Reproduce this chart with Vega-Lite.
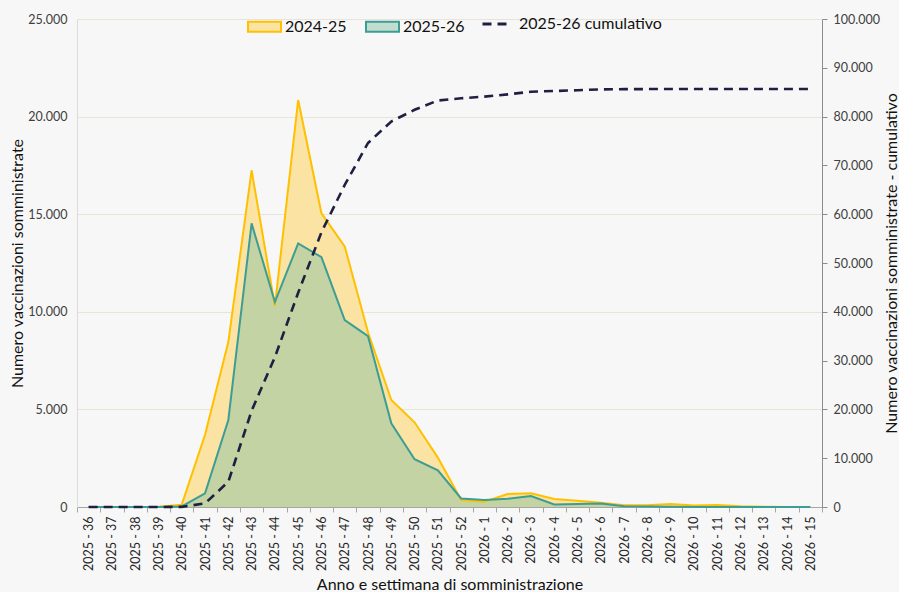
{
  "$schema": "https://vega.github.io/schema/vega-lite/v6.json",
  "width": 745,
  "height": 488,
  "autosize": {"type": "none"},
  "padding": {"left": 77, "top": 19, "right": 77, "bottom": 85},
  "background": "#F7F7F7",
  "config": {
    "font": "Lato",
    "view": {"stroke": null},
    "locale": {"number": {"decimal": ",", "thousands": ".", "grouping": [3], "currency": ["€", ""]}}
  },
  "data": {
    "values": [
      {"settimana": "2025 - 36", "2024-25": 0, "2025-26": 0, "cum": 0},
      {"settimana": "2025 - 37", "2024-25": 0, "2025-26": 0, "cum": 0},
      {"settimana": "2025 - 38", "2024-25": 0, "2025-26": 0, "cum": 0},
      {"settimana": "2025 - 39", "2024-25": 10, "2025-26": 0, "cum": 0},
      {"settimana": "2025 - 40", "2024-25": 120, "2025-26": 30, "cum": 30},
      {"settimana": "2025 - 41", "2024-25": 3700, "2025-26": 700, "cum": 730},
      {"settimana": "2025 - 42", "2024-25": 8450, "2025-26": 4450, "cum": 5180},
      {"settimana": "2025 - 43", "2024-25": 17250, "2025-26": 14530, "cum": 19710},
      {"settimana": "2025 - 44", "2024-25": 10300, "2025-26": 10500, "cum": 30700},
      {"settimana": "2025 - 45", "2024-25": 20850, "2025-26": 13500, "cum": 43900},
      {"settimana": "2025 - 46", "2024-25": 15050, "2025-26": 12800, "cum": 56300},
      {"settimana": "2025 - 47", "2024-25": 13350, "2025-26": 9580, "cum": 66000},
      {"settimana": "2025 - 48", "2024-25": 8950, "2025-26": 8750, "cum": 74600},
      {"settimana": "2025 - 49", "2024-25": 5480, "2025-26": 4290, "cum": 79000},
      {"settimana": "2025 - 50", "2024-25": 4340, "2025-26": 2450, "cum": 81400},
      {"settimana": "2025 - 51", "2024-25": 2530, "2025-26": 1880, "cum": 83300},
      {"settimana": "2025 - 52", "2024-25": 360, "2025-26": 440, "cum": 83750},
      {"settimana": "2026 - 1", "2024-25": 270, "2025-26": 360, "cum": 84100},
      {"settimana": "2026 - 2", "2024-25": 665, "2025-26": 420, "cum": 84550},
      {"settimana": "2026 - 3", "2024-25": 700, "2025-26": 560, "cum": 85100},
      {"settimana": "2026 - 4", "2024-25": 410, "2025-26": 130, "cum": 85250},
      {"settimana": "2026 - 5", "2024-25": 320, "2025-26": 150, "cum": 85400},
      {"settimana": "2026 - 6", "2024-25": 220, "2025-26": 180, "cum": 85580},
      {"settimana": "2026 - 7", "2024-25": 85, "2025-26": 40, "cum": 85620},
      {"settimana": "2026 - 8", "2024-25": 85, "2025-26": 20, "cum": 85640},
      {"settimana": "2026 - 9", "2024-25": 150, "2025-26": 10, "cum": 85650},
      {"settimana": "2026 - 10", "2024-25": 80, "2025-26": 5, "cum": 85655},
      {"settimana": "2026 - 11", "2024-25": 100, "2025-26": 5, "cum": 85660},
      {"settimana": "2026 - 12", "2024-25": 40, "2025-26": 0, "cum": 85660},
      {"settimana": "2026 - 13", "2024-25": 10, "2025-26": 0, "cum": 85660},
      {"settimana": "2026 - 14", "2024-25": 5, "2025-26": 0, "cum": 85660},
      {"settimana": "2026 - 15", "2024-25": 5, "2025-26": 0, "cum": 85660}
    ]
  },
  "encoding": {
    "x": {
      "field": "settimana",
      "type": "nominal",
      "bandPosition": 0.5,
      "scale": {
        "type": "band",
        "paddingInner": 0,
        "paddingOuter": 0,
        "domain": ["2025 - 36", "2025 - 37", "2025 - 38", "2025 - 39", "2025 - 40", "2025 - 41", "2025 - 42", "2025 - 43", "2025 - 44", "2025 - 45", "2025 - 46", "2025 - 47", "2025 - 48", "2025 - 49", "2025 - 50", "2025 - 51", "2025 - 52", "2026 - 1", "2026 - 2", "2026 - 3", "2026 - 4", "2026 - 5", "2026 - 6", "2026 - 7", "2026 - 8", "2026 - 9", "2026 - 10", "2026 - 11", "2026 - 12", "2026 - 13", "2026 - 14", "2026 - 15"]
      },
      "axis": {
        "title": "Anno e settimana di somministrazione",
        "titleFontSize": 16,
        "titleFontWeight": "normal",
        "titleColor": "#111111",
        "titlePadding": 6,
        "labelAngle": 270,
        "labelFontSize": 12.5,
        "labelColor": "#262626",
        "labelPadding": 4,
        "tickBand": "extent",
        "tickSize": 5,
        "tickColor": "#A6A6A6",
        "domainColor": "#A6A6A6",
        "grid": false
      }
    }
  },
  "layer": [
    {
      "transform": [{"fold": ["2024-25", "2025-26"], "as": ["serie", "valore"]}],
      "encoding": {
        "y": {
          "field": "valore",
          "type": "quantitative",
          "scale": {"domain": [0, 25000], "nice": false},
          "axis": {
            "orient": "left",
            "title": "Numero vaccinazioni somministrate",
            "titleFontSize": 16,
            "titleFontWeight": "normal",
            "titleColor": "#111111",
            "titlePadding": 2,
            "values": [0, 5000, 10000, 15000, 20000, 25000],
            "format": ",.0f",
            "labelFontSize": 12.5,
            "labelColor": "#404040",
            "labelPadding": 10,
            "ticks": false,
            "domainColor": "#DCDCDC",
            "grid": true,
            "gridColor": "#E8E4D8",
            "gridWidth": 1.2
          }
        }
      },
      "layer": [
        {
          "transform": [{"filter": "datum.serie === '2024-25'"}],
          "mark": {"type": "area"},
          "encoding": {
            "fill": {
              "field": "serie",
              "type": "nominal",
              "scale": {"domain": ["2024-25", "2025-26"], "range": ["#FBE3A3", "rgba(140,196,164,0.5)"]},
              "legend": {
                "orient": "none",
                "direction": "horizontal",
                "legendX": 170,
                "legendY": -10,
                "title": null,
                "padding": 0,
                "labelFontSize": 16,
                "labelColor": "#111111",
                "labelOffset": 3,
                "columnPadding": 15,
                "symbolType": "M-1,-0.3L1,-0.3L1,0.3L-1,0.3Z",
                "symbolSize": 1089,
                "symbolStrokeWidth": 2,
                "encode": {
                  "symbols": {
                    "update": {
                      "fill": {"signal": "datum.value === '2024-25' ? '#FBE3A3' : '#C6E0DA'"},
                      "stroke": {"signal": "datum.value === '2024-25' ? '#FFC000' : '#3C9D95'"},
                      "strokeWidth": {"value": 2}
                    }
                  }
                }
              }
            }
          }
        },
        {
          "transform": [{"filter": "datum.serie === '2025-26'"}],
          "mark": {"type": "area"},
          "encoding": {
            "fill": {"field": "serie", "type": "nominal"}
          }
        },
        {
          "mark": {"type": "line", "strokeWidth": 2},
          "encoding": {
            "stroke": {
              "field": "serie",
              "type": "nominal",
              "scale": {"domain": ["2024-25", "2025-26"], "range": ["#FFC000", "#3C9D95"]},
              "legend": null
            }
          }
        }
      ]
    },
    {
      "mark": {"type": "line", "color": "#1F2041", "strokeWidth": 2.6},
      "encoding": {
        "y": {
          "field": "cum",
          "type": "quantitative",
          "scale": {"domain": [0, 100000], "nice": false},
          "axis": {
            "orient": "right",
            "title": "Numero vaccinazioni somministrate - cumulativo",
            "titleAngle": 270,
            "titleFontSize": 16,
            "titleFontWeight": "normal",
            "titleColor": "#111111",
            "titlePadding": 20,
            "values": [0, 10000, 20000, 30000, 40000, 50000, 60000, 70000, 80000, 90000, 100000],
            "format": ",.0f",
            "labelFontSize": 12.5,
            "labelColor": "#404040",
            "labelPadding": 6,
            "tickSize": 5,
            "tickColor": "#8C8C8C",
            "domainColor": "#8C8C8C",
            "grid": false
          }
        },
        "strokeDash": {
          "datum": "2025-26 cumulativo",
          "scale": {"range": [[9, 6]]},
          "legend": {
            "orient": "none",
            "direction": "horizontal",
            "legendX": 404,
            "legendY": -10,
            "title": null,
            "padding": 0,
            "labelFontSize": 16,
            "labelColor": "#111111",
            "labelOffset": 8,
            "symbolSize": 729,
            "symbolStrokeWidth": 3,
            "symbolStrokeColor": "#1F2041"
          }
        }
      }
    }
  ],
  "resolve": {"scale": {"y": "independent"}}
}
